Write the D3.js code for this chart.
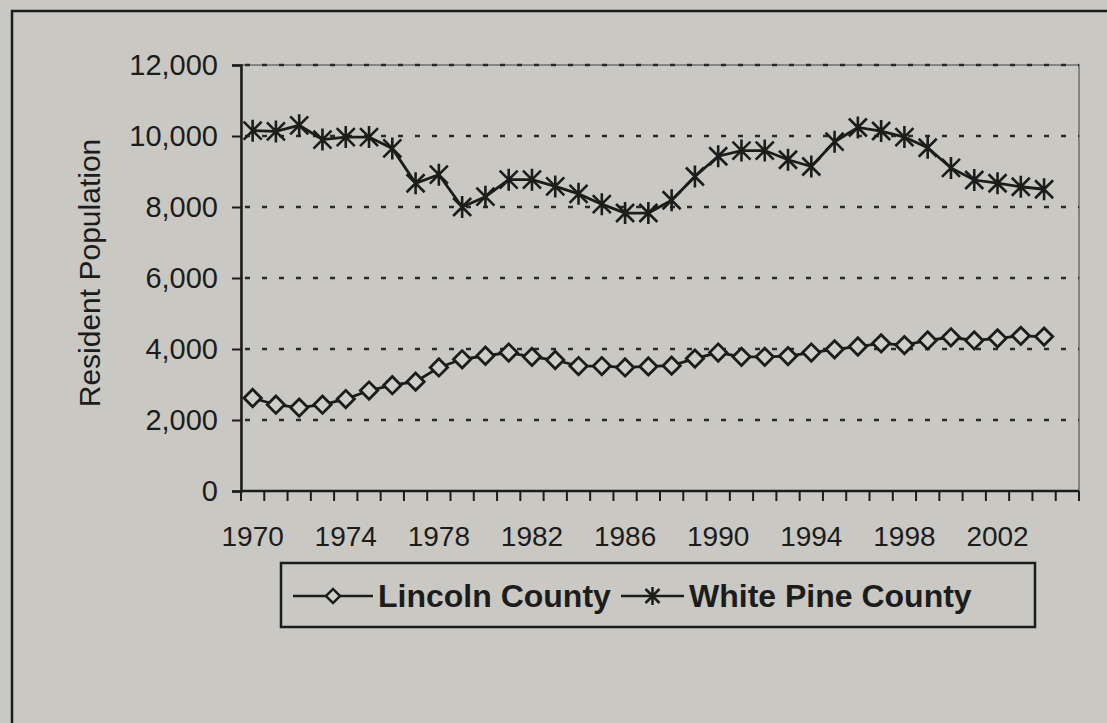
<!DOCTYPE html>
<html>
<head>
<meta charset="utf-8">
<script src="https://cdn.jsdelivr.net/npm/d3@7"></script>
<style>
	html, body { margin: 0; padding: 0; background: #c9c8c3; }
	svg { display: block; }
	text { font-family: Arial, "Liberation Sans", sans-serif; fill: #1c1c1c; }
</style>
</head>
<body>
<div id="chart"></div>
<script>
// categories (last one is empty, as in the source chart)
const years = [1970, 1971, 1972, 1973, 1974, 1975, 1976, 1977, 1978, 1979,
	1980, 1981, 1982, 1983, 1984, 1985, 1986, 1987, 1988, 1989,
	1990, 1991, 1992, 1993, 1994, 1995, 1996, 1997, 1998, 1999,
	2000, 2001, 2002, 2003, 2004, 2005];

const lincoln = [2620, 2430, 2350, 2430, 2590, 2830, 2980, 3080, 3480, 3710,
	3810, 3900, 3780, 3690, 3520, 3520, 3480, 3510, 3530, 3730,
	3900, 3780, 3780, 3800, 3900, 3990, 4070, 4160, 4110, 4240,
	4330, 4240, 4300, 4370, 4350, null];

const whitePine = [10150, 10130, 10300, 9900, 9970, 9970, 9650, 8670, 8910, 8000,
	8290, 8770, 8770, 8580, 8370, 8080, 7830, 7830, 8190, 8860,
	9430, 9590, 9590, 9330, 9140, 9840, 10240, 10140, 9970, 9670,
	9100, 8760, 8670, 8570, 8500, null];

const xLabels = [1970, 1974, 1978, 1982, 1986, 1990, 1994, 1998, 2002];
const yTicks = [0, 2000, 4000, 6000, 8000, 10000, 12000];

const seriesNames = ['Lincoln County', 'White Pine County'];

const W = 1107, H = 723;
const plot = {x1: 241, x2: 1079, y1: 65, y2: 491};
const ink = '#1c1c1c';

const svg = d3.select('#chart')
	.append('svg')
	.attr('width', W)
	.attr('height', H);

svg.append('rect')
	.attr('width', W)
	.attr('height', H)
	.attr('fill', '#c9c8c3');

// outer chart frame, runs off the page right and bottom
svg.append('rect')
	.attr('x', 12)
	.attr('y', 11)
	.attr('width', 1200)
	.attr('height', 800)
	.attr('fill', 'none')
	.attr('stroke', ink)
	.attr('stroke-width', 2.5);

const x = d3.scaleBand()
	.domain(years)
	.range([plot.x1, plot.x2])
	.padding(0);

const y = d3.scaleLinear()
	.domain([0, 12000])
	.range([plot.y2, plot.y1]);

const cx = d => x(d) + x.bandwidth() / 2;

// plot area border (grey, right side)
svg.append('rect')
	.attr('x', plot.x1)
	.attr('y', plot.y1)
	.attr('width', plot.x2 - plot.x1)
	.attr('height', plot.y2 - plot.y1)
	.attr('fill', 'none')
	.attr('stroke', '#6e6e6e')
	.attr('stroke-width', 1.5);

// dotted gridlines
svg.append('g')
	.attr('class', 'grid')
	.selectAll('line')
	.data(yTicks.filter(d => d > 0))
	.enter()
	.append('line')
	.attr('x1', plot.x1 + 4)
	.attr('x2', plot.x2)
	.attr('y1', d => y(d))
	.attr('y2', d => y(d))
	.attr('stroke', '#2a2a2a')
	.attr('stroke-width', 2.5)
	.attr('stroke-dasharray', '5,12');

// y axis
const yAxis = d3.axisLeft(y)
	.tickValues(yTicks)
	.tickSize(9)
	.tickPadding(14)
	.tickFormat(d3.format(','));

const gY = svg.append('g')
	.attr('transform', 'translate(' + plot.x1 + ',0)')
	.call(yAxis);

gY.select('.domain').attr('stroke', ink).attr('stroke-width', 2.5);
gY.selectAll('.tick line').attr('stroke', ink).attr('stroke-width', 2);
gY.selectAll('.tick text')
	.attr('font-size', 29)
	.attr('fill', ink);

// x axis: ticks sit between categories
const gX = svg.append('g')
	.attr('transform', 'translate(0,' + plot.y2 + ')');

gX.append('line')
	.attr('x1', plot.x1)
	.attr('x2', plot.x2)
	.attr('stroke', ink)
	.attr('stroke-width', 2.5);

gX.selectAll('.xtick')
	.data(years.concat([null]))
	.enter()
	.append('line')
	.attr('class', 'xtick')
	.attr('x1', (d, i) => plot.x1 + i * x.bandwidth())
	.attr('x2', (d, i) => plot.x1 + i * x.bandwidth())
	.attr('y1', 0)
	.attr('y2', 10)
	.attr('stroke', ink)
	.attr('stroke-width', 2);

gX.selectAll('.xlabel')
	.data(xLabels)
	.enter()
	.append('text')
	.attr('class', 'xlabel')
	.attr('x', d => cx(d))
	.attr('y', 55)
	.attr('text-anchor', 'middle')
	.attr('font-size', 28)
	.text(d => d);

// y axis title
svg.append('text')
	.attr('transform', 'translate(100,273) rotate(-90)')
	.attr('text-anchor', 'middle')
	.attr('font-size', 30)
	.text('Resident Population');

// markers
const diamond = d3.symbol().type(d3.symbolSquare).size(150);
const starPath = 'M-9,-9L9,9M-9,9L9,-9M0,-11L0,11';

const line = d3.line()
	.defined(d => d.v != null)
	.x(d => cx(d.year))
	.y(d => y(d.v));

function series(values) {
	return years.map((yr, i) => ({year: yr, v: values[i]}));
}

const lnData = series(lincoln),
	wpData = series(whitePine);

svg.append('path')
	.datum(wpData)
	.attr('d', line)
	.attr('fill', 'none')
	.attr('stroke', ink)
	.attr('stroke-width', 2.8);

svg.append('g')
	.selectAll('path')
	.data(wpData.filter(d => d.v != null))
	.enter()
	.append('path')
	.attr('transform', d => 'translate(' + cx(d.year) + ',' + y(d.v) + ')')
	.attr('d', starPath)
	.attr('stroke', ink)
	.attr('stroke-width', 2.6)
	.attr('fill', 'none');

svg.append('path')
	.datum(lnData)
	.attr('d', line)
	.attr('fill', 'none')
	.attr('stroke', ink)
	.attr('stroke-width', 2.8);

svg.append('g')
	.selectAll('path')
	.data(lnData.filter(d => d.v != null))
	.enter()
	.append('path')
	.attr('transform', d => 'translate(' + cx(d.year) + ',' + y(d.v) + ') rotate(45)')
	.attr('d', diamond)
	.attr('fill', '#cfceca')
	.attr('stroke', ink)
	.attr('stroke-width', 2.8);

// legend
const lg = svg.append('g')
	.attr('transform', 'translate(281,563)');

lg.append('rect')
	.attr('width', 754)
	.attr('height', 64)
	.attr('fill', 'none')
	.attr('stroke', ink)
	.attr('stroke-width', 2.5);

const legendItems = [
	{name: seriesNames[0], x1: 12, x2: 92, tx: 97, mark: 'diamond'},
	{name: seriesNames[1], x1: 340, x2: 403, tx: 408, mark: 'star'}
];

legendItems.forEach(function(it) {
	const mx = (it.x1 + it.x2) / 2;
	lg.append('line')
		.attr('x1', it.x1)
		.attr('x2', it.x2)
		.attr('y1', 33)
		.attr('y2', 33)
		.attr('stroke', ink)
		.attr('stroke-width', 2.5);

	if (it.mark === 'diamond') {
		lg.append('path')
			.attr('transform', 'translate(' + mx + ',33) rotate(45)')
			.attr('d', d3.symbol().type(d3.symbolSquare).size(100))
			.attr('fill', '#cfceca')
			.attr('stroke', ink)
			.attr('stroke-width', 2.5);
	} else {
		lg.append('path')
			.attr('transform', 'translate(' + mx + ',33)')
			.attr('d', 'M-7,-7L7,7M-7,7L7,-7M0,-9L0,9')
			.attr('stroke', ink)
			.attr('stroke-width', 2.5);
	}

	lg.append('text')
		.attr('x', it.tx)
		.attr('y', 44)
		.attr('font-size', 32)
		.attr('font-weight', 'bold')
		.text(it.name);
});
</script>
</body>
</html>
